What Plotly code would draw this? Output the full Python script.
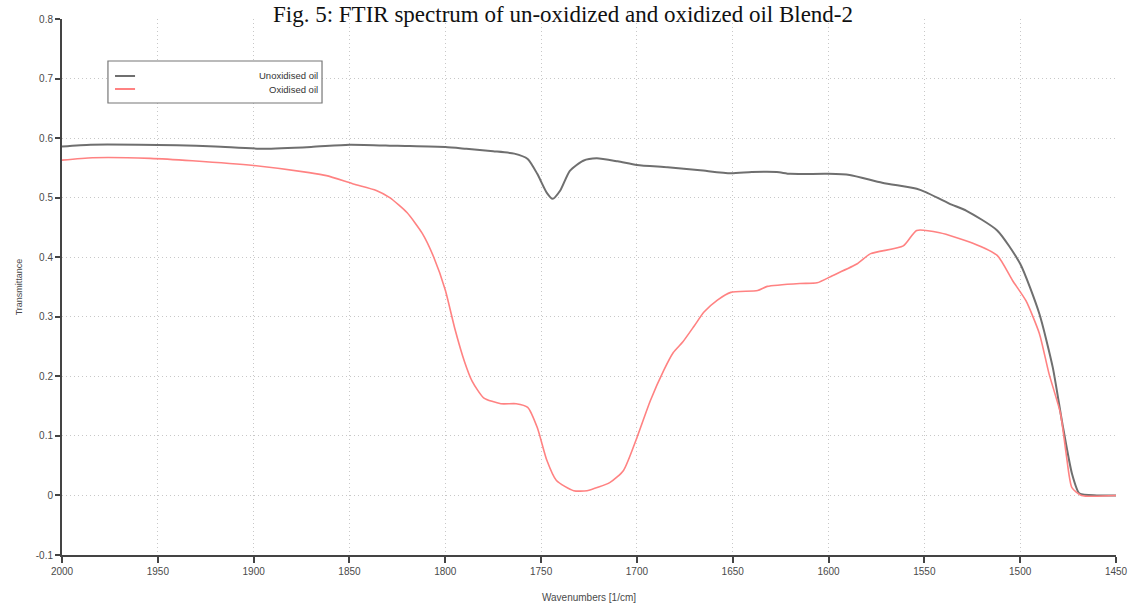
import plotly.graph_objects as go

# FTIR transmittance, un-oxidised blend
unox_wavenumber = [2000, 1985, 1960, 1940, 1920, 1895, 1870, 1850, 1825, 1800,
                   1789, 1775, 1764, 1757, 1752, 1747, 1744, 1740, 1735, 1728,
                   1721, 1710, 1700, 1684, 1667, 1651, 1640, 1627, 1620, 1600,
                   1589, 1572, 1554, 1549, 1537, 1528, 1512, 1500, 1490, 1483,
                   1478, 1473, 1469, 1460, 1450]
unox_transmittance = [0.586, 0.589, 0.589, 0.588, 0.586, 0.582, 0.585, 0.589, 0.587, 0.585,
                      0.582, 0.578, 0.574, 0.565, 0.540, 0.508, 0.498, 0.512, 0.545, 0.562,
                      0.566, 0.561, 0.555, 0.551, 0.546, 0.541, 0.543, 0.543, 0.540, 0.540,
                      0.538, 0.525, 0.515, 0.509, 0.490, 0.478, 0.445, 0.389, 0.305, 0.215,
                      0.121, 0.037, 0.003, 0.0, 0.0]

# FTIR transmittance, oxidised blend
ox_wavenumber = [2000, 1984, 1954, 1932, 1900, 1871, 1862, 1848, 1836, 1829,
                 1820, 1812, 1806, 1800, 1795, 1790, 1786, 1780, 1771, 1763,
                 1757, 1752, 1747, 1742, 1733, 1726, 1714, 1707, 1700, 1693,
                 1686, 1681, 1676, 1670, 1665, 1658, 1651, 1637, 1632, 1615,
                 1606, 1598, 1585, 1578, 1561, 1554, 1542, 1525, 1512, 1504,
                 1497, 1490, 1485, 1479, 1476, 1473, 1468, 1450]
ox_transmittance = [0.563, 0.567, 0.566, 0.562, 0.554, 0.542, 0.537, 0.523, 0.512, 0.500,
                    0.475, 0.440, 0.400, 0.345, 0.280, 0.225, 0.192, 0.164, 0.154, 0.154,
                    0.148, 0.114, 0.059, 0.025, 0.008, 0.008, 0.022, 0.042, 0.097, 0.159,
                    0.210, 0.240, 0.258, 0.285, 0.308, 0.328, 0.341, 0.344, 0.351, 0.356,
                    0.357, 0.369, 0.389, 0.406, 0.419, 0.445, 0.441, 0.424, 0.403, 0.361,
                    0.327, 0.272, 0.205, 0.138, 0.070, 0.013, 0.0, 0.0]

x_ticks = [2000, 1950, 1900, 1850, 1800, 1750, 1700, 1650, 1600, 1550, 1500, 1450]
y_ticks = [-0.1, 0, 0.1, 0.2, 0.3, 0.4, 0.5, 0.6, 0.7, 0.8]
y_tick_text = ["-0.1", "0", "0.1", "0.2", "0.3", "0.4", "0.5", "0.6", "0.7", "0.8"]

series_names = ["Unoxidised oil", "Oxidised oil"]
grey = "#6f6f6f"
red = "#ff8282"

fig = go.Figure()
fig.add_trace(go.Scatter(x=unox_wavenumber, y=unox_transmittance, mode="lines",
                         name=series_names[0], showlegend=False,
                         line=dict(color=grey, width=2, shape="spline", smoothing=0.6)))
fig.add_trace(go.Scatter(x=ox_wavenumber, y=ox_transmittance, mode="lines",
                         name=series_names[1], showlegend=False,
                         line=dict(color=red, width=1.6, shape="spline", smoothing=0.6)))

axis_font = dict(family="Liberation Sans, Arial, sans-serif", size=10, color="#4a4a4a")
grid_style = dict(showgrid=True, gridcolor="#c8c8c8", griddash="1px,3px", gridwidth=1)

fig.update_xaxes(range=[2000, 1450], tickvals=x_ticks, ticks="outside", ticklen=6,
                 tickwidth=2, tickcolor="#444", showline=True, linecolor="#444",
                 linewidth=2, zeroline=False, tickfont=axis_font, automargin=False,
                 title=dict(text="Wavenumbers [1/cm]", font=axis_font, standoff=18),
                 **grid_style)
fig.update_yaxes(range=[-0.1, 0.8], tickvals=y_ticks, ticktext=y_tick_text,
                 ticks="outside", ticklen=5, tickwidth=2, tickcolor="#444",
                 showline=True, linecolor="#444", linewidth=2, zeroline=False,
                 tickfont=axis_font, automargin=False,
                 title=dict(text="Transmittance",
                            font=dict(family="Liberation Sans, Arial, sans-serif",
                                      size=9, color="#4a4a4a"), standoff=12),
                 **grid_style)

# Legend box drawn in paper coordinates
legend_shapes = [
    dict(type="rect", xref="paper", yref="paper", x0=0.0436, x1=0.2467,
         y0=0.8433, y1=0.9216, line=dict(color="#777", width=1.2), fillcolor="white"),
    dict(type="line", xref="paper", yref="paper", x0=0.0503, x1=0.0693,
         y0=0.8937, y1=0.8937, line=dict(color=grey, width=2)),
    dict(type="line", xref="paper", yref="paper", x0=0.0503, x1=0.0693,
         y0=0.8694, y1=0.8694, line=dict(color=red, width=2)),
]
legend_font = dict(family="Liberation Sans, Arial, sans-serif", size=9.5, color="#333")
legend_labels = [
    dict(text=series_names[0], xref="paper", yref="paper", x=0.2448, y=0.8937,
         xanchor="right", yanchor="middle", showarrow=False, font=legend_font),
    dict(text=series_names[1], xref="paper", yref="paper", x=0.2448, y=0.8694,
         xanchor="right", yanchor="middle", showarrow=False, font=legend_font),
]

title_note = dict(text="Fig. 5: FTIR spectrum of un-oxidized and oxidized oil Blend-2",
                  xref="paper", yref="paper", x=0.475, y=1.035, xanchor="center",
                  yanchor="top", showarrow=False,
                  font=dict(family="Liberation Serif, Times New Roman, serif",
                            size=23, color="#111"))

fig.update_layout(width=1130, height=606, margin=dict(l=62, r=14, t=19, b=51),
                  paper_bgcolor="white", plot_bgcolor="white",
                  shapes=legend_shapes, annotations=legend_labels + [title_note])

fig.write_html("out.html")
